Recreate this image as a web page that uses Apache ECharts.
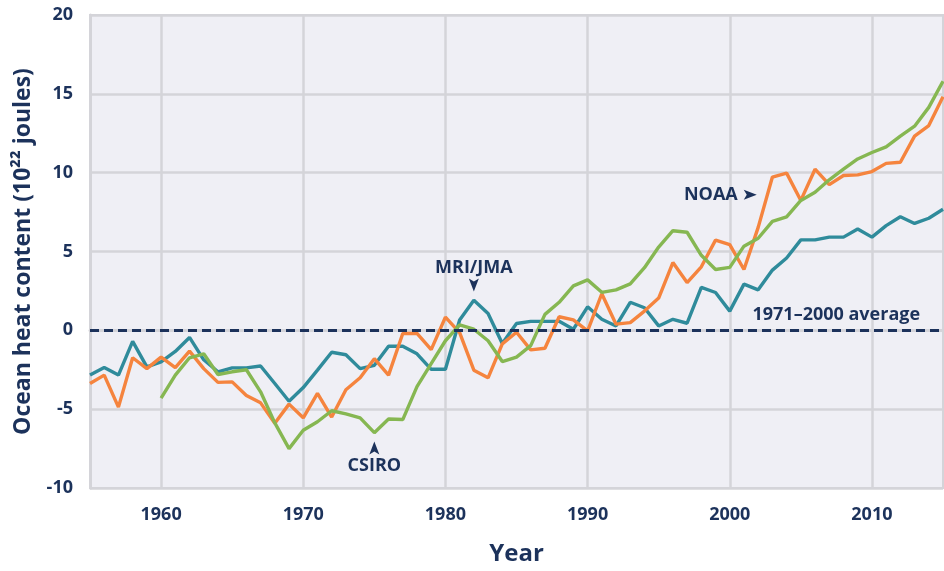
<!DOCTYPE html>
<html>
<head>
<meta charset="utf-8">
<title>Ocean heat content</title>
<script src="https://cdn.jsdelivr.net/npm/echarts@6/dist/echarts.min.js"></script>
<style>
  html, body { margin: 0; padding: 0; background: #fff; overflow: hidden; }
  #chart { width: 100vw; height: 100vh; }
</style>
</head>
<body>
<div id="chart"></div>
<script>
// years on the x axis
const years = [
  1955, 1956, 1957, 1958, 1959, 1960, 1961, 1962, 1963, 1964,
  1965, 1966, 1967, 1968, 1969, 1970, 1971, 1972, 1973, 1974,
  1975, 1976, 1977, 1978, 1979, 1980, 1981, 1982, 1983, 1984,
  1985, 1986, 1987, 1988, 1989, 1990, 1991, 1992, 1993, 1994,
  1995, 1996, 1997, 1998, 1999, 2000, 2001, 2002, 2003, 2004,
  2005, 2006, 2007, 2008, 2009, 2010, 2011, 2012, 2013, 2014,
  2015
];

// ocean heat content, 10^22 joules, relative to 1971-2000 average
const mriJma = [
  -2.84, -2.36, -2.84, -0.70, -2.32, -2.00, -1.34, -0.45, -1.87, -2.63,
  -2.38, -2.38, -2.26, -3.37, -4.50, -3.63, -2.52, -1.39, -1.55, -2.43,
  -2.22, -1.01, -1.01, -1.49, -2.47, -2.47, 0.66, 1.91, 1.07, -0.84,
  0.43, 0.57, 0.57, 0.57, 0.07, 1.49, 0.70, 0.28, 1.78, 1.43,
  0.28, 0.70, 0.45, 2.72, 2.40, 1.22, 2.93, 2.57, 3.82, 4.59,
  5.74, 5.74, 5.91, 5.91, 6.43, 5.91, 6.64, 7.20, 6.78, 7.11,
  7.68
];

const noaa = [
  -3.37, -2.84, -4.87, -1.74, -2.43, -1.70, -2.36, -1.32, -2.43, -3.30,
  -3.27, -4.13, -4.60, -5.90, -4.68, -5.55, -4.00, -5.50, -3.77, -3.01,
  -1.80, -2.84, -0.20, -0.20, -1.22, 0.84, -0.14, -2.53, -3.01, -0.86,
  -0.12, -1.24, -1.14, 0.86, 0.66, -0.03, 2.32, 0.39, 0.49, 1.22,
  2.05, 4.30, 3.03, 4.03, 5.72, 5.43, 3.86, 6.53, 9.72, 9.97,
  8.24, 10.22, 9.24, 9.82, 9.86, 10.07, 10.59, 10.66, 12.32, 12.99,
  14.82
];

const csiro = [
  null, null, null, null, null, -4.30, -2.84, -1.74, -1.49, -2.80,
  -2.63, -2.50, -3.90, -5.87, -7.50, -6.34, -5.80, -5.10, -5.30, -5.55,
  -6.49, -5.62, -5.66, -3.57, -2.11, -0.66, 0.34, 0.07, -0.66, -1.98,
  -1.70, -0.97, 1.01, 1.78, 2.82, 3.20, 2.41, 2.57, 2.95, 3.97,
  5.28, 6.32, 6.22, 4.76, 3.86, 3.99, 5.34, 5.84, 6.91, 7.20,
  8.24, 8.76, 9.55, 10.22, 10.87, 11.28, 11.64, 12.32, 12.95, 14.14,
  15.80
];

const navy = "#1c325b";
const gridGray = "#d4d4d9";
const decade = (i, v) => Number(v) % 10 === 0;

const chart = echarts.init(document.getElementById("chart"));

chart.setOption({
  animation: false,
  textStyle: { fontFamily: "Open Sans" },
  grid: {
    left: 90, right: 1, top: 15, bottom: 77,
    show: true,
    backgroundColor: "#efeff5",
    borderColor: gridGray,
    borderWidth: 2
  },
  xAxis: {
    type: "category",
    data: years,
    boundaryGap: false,
    axisLine: { lineStyle: { color: gridGray, width: 3 } },
    axisTick: { show: false },
    axisLabel: {
      interval: decade,
      margin: 18,
      color: navy,
      fontSize: 18,
      fontWeight: "bold"
    },
    splitLine: {
      show: true,
      interval: decade,
      lineStyle: { color: gridGray, width: 2.5 }
    },
    name: "Year",
    nameLocation: "middle",
    nameGap: 54,
    nameTextStyle: { color: navy, fontSize: 24, fontWeight: "bold" }
  },
  yAxis: {
    type: "value",
    min: -10,
    max: 20,
    interval: 5,
    axisLine: { show: true, lineStyle: { color: gridGray, width: 3 } },
    axisTick: { show: false },
    axisLabel: { margin: 17, color: navy, fontSize: 18, fontWeight: "bold" },
    splitLine: { lineStyle: { color: gridGray, width: 2.5 } },
    name: "Ocean heat content (10²² joules)",
    nameLocation: "middle",
    nameGap: 55,
    nameTextStyle: { color: navy, fontSize: 23, fontWeight: "bold" }
  },
  series: [
    {
      // 1971-2000 average reference line
      type: "line",
      data: [],
      markLine: {
        silent: true,
        symbol: "none",
        label: { show: false },
        lineStyle: { color: navy, type: [9, 5], width: 3 },
        data: [{ yAxis: 0 }]
      }
    },
    {
      name: "MRI/JMA",
      type: "line",
      data: mriJma,
      showSymbol: false,
      lineStyle: { color: "#2f8b9b", width: 3.4 }
    },
    {
      name: "NOAA",
      type: "line",
      data: noaa,
      showSymbol: false,
      lineStyle: { color: "#f5843e", width: 3.4 }
    },
    {
      name: "CSIRO",
      type: "line",
      data: csiro,
      showSymbol: false,
      lineStyle: { color: "#86b752", width: 3.4 }
    }
  ]
});

// annotations placed from data coordinates
function px(year, val) {
  return chart.convertToPixel({ gridIndex: 0 }, [years.indexOf(year), val]);
}
const font = "bold 18px 'Open Sans'";
function label(p, text, align) {
  return {
    type: "text", x: p[0], y: p[1],
    style: { text: text, font: font, fill: navy, align: align || "center", verticalAlign: "middle" }
  };
}
function arrowDown(p) {
  return {
    type: "polygon", x: p[0], y: p[1],
    shape: { points: [[0, 7], [-5, -6], [0, -3], [5, -6]] },
    style: { fill: navy }
  };
}
function arrowUp(p) {
  return {
    type: "polygon", x: p[0], y: p[1],
    shape: { points: [[0, -7], [-5, 6], [0, 3], [5, 6]] },
    style: { fill: navy }
  };
}
function arrowRight(p) {
  return {
    type: "polygon", x: p[0], y: p[1],
    shape: { points: [[7, 0], [-6, -5], [-3, 0], [-6, 5]] },
    style: { fill: navy }
  };
}

const mriP = px(1982, 3.97);
const mriA = px(1982, 2.9);
const csP = px(1975, -8.6);
const csA = px(1975, -7.5);
const noP = px(2000, 8.6);
const avP = px(2007, 0.98);

chart.setOption({
  graphic: [
    label(mriP, "MRI/JMA"),
    arrowDown(mriA),
    label(csP, "CSIRO"),
    arrowUp(csA),
    label([noP[0] + 8, noP[1]], "NOAA", "right"),
    arrowRight([noP[0] + 20, noP[1]]),
    label([avP[0] + 7, avP[1]], "1971–2000 average")
  ]
});
</script>
</body>
</html>
